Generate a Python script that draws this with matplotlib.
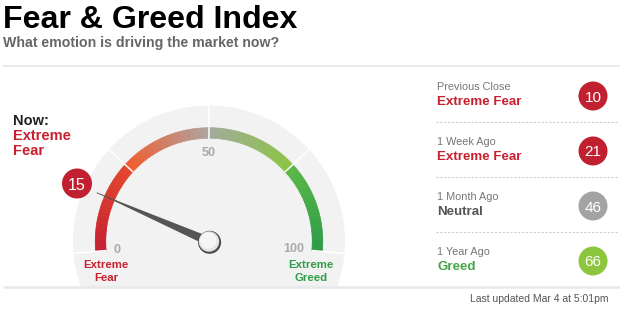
import numpy as np
import matplotlib
matplotlib.use("Agg")
import matplotlib.pyplot as plt
from matplotlib.patches import Wedge, Circle, Polygon, Rectangle
from matplotlib.colors import to_rgb

# ---- data ----
now_value = 15
now_label = "Extreme Fear"
gauge_ticks = [0, 50, 100]
separators = [0, 25, 50, 75, 100]
hist_labels = ["Previous Close", "1 Week Ago", "1 Month Ago", "1 Year Ago"]
hist_states = ["Extreme Fear", "Extreme Fear", "Neutral", "Greed"]
hist_values = [10, 21, 46, 66]
updated_text = "Last updated Mar 4 at 5:01pm"

# ---- style ----
FONT = "Liberation Sans"
BADGE = {"Extreme Fear": "#c0202f", "Neutral": "#a3a3a3", "Greed": "#8cc63e"}
STATE_TXT = {"Extreme Fear": "#c8202f", "Neutral": "#555555", "Greed": "#45a546"}
seg_colors = [("#c41d30", "#e4472c"), ("#f15a28", "#aea4a0"),
              ("#a2aa9c", "#8bc540"), ("#5cb847", "#2b9b46")]

W, H = 620, 310
fig = plt.figure(figsize=(6.2, 3.1), dpi=100)
ax = fig.add_axes([0, 0, 1, 1])
ax.set_xlim(0, W)
ax.set_ylim(0, H)
ax.axis("off")


def Y(y):
    return H - y


cx, cy = 209, Y(241.5)
R_BG, R_OUT, R_IN = 136, 114, 103


def ang(v):
    return 185 - 1.9 * v


# header
ax.text(3, Y(28), "Fear & Greed Index", fontsize=23.1, fontweight="bold",
        family=FONT, color="#000000", va="baseline", ha="left")
ax.text(3, Y(47), "What emotion is driving the market now?", fontsize=10.15,
        fontweight="bold", family=FONT, color="#666666", va="baseline", ha="left")
ax.plot([3, 620], [Y(66), Y(66)], color="#e6e6e6", lw=1.2, solid_capstyle="butt")

# gauge background
bg = Circle((cx, cy), R_BG, facecolor="#f2f2f2", edgecolor="none", zorder=1)
ax.add_patch(bg)
clip = Rectangle((0, Y(287)), W, H, transform=ax.transData)
bg.set_clip_path(clip)

# gradient arc
for (v0, v1), (c0, c1) in zip(zip(separators[:-1], separators[1:]), seg_colors):
    n = 40
    c0, c1 = np.array(to_rgb(c0)), np.array(to_rgb(c1))
    for i in range(n):
        a = v0 + (v1 - v0) * i / n
        b = v0 + (v1 - v0) * (i + 1) / n
        col = c0 + (c1 - c0) * (i + 0.5) / n
        ax.add_patch(Wedge((cx, cy), R_OUT - 0.2, ang(b), ang(a),
                           width=R_OUT - R_IN - 0.4, facecolor=col, edgecolor=col,
                           lw=0.45, zorder=2))

# separators
for v in separators:
    t = np.radians(ang(v))
    ax.plot([cx + R_IN * np.cos(t), cx + (R_BG + 1) * np.cos(t)],
            [cy + R_IN * np.sin(t), cy + (R_BG + 1) * np.sin(t)],
            color="white", lw=1.1, zorder=3, solid_capstyle="butt")

# tick labels
tick_r = {0: 92, 50: 88, 100: 85}
for v in gauge_ticks:
    t = np.radians(ang(v))
    ax.text(cx + tick_r[v] * np.cos(t), cy + tick_r[v] * np.sin(t), str(v),
            fontsize=9, fontweight="bold", family=FONT, color="#aaaaaa",
            ha="center", va="center", zorder=4)

# end labels
for x, col, words in [(106, "#c8202f", ["Extreme", "Fear"]),
                      (311, "#2e9e47", ["Extreme", "Greed"])]:
    for j, w in enumerate(words):
        ax.text(x, Y(268 + 13 * j), w, fontsize=8.2, fontweight="bold", family=FONT,
                color=col, ha="center", va="baseline", zorder=4)

# needle
t = np.radians(ang(now_value))
tip = (cx + 122 * np.cos(t), cy + 122 * np.sin(t))
px, py = -np.sin(t), np.cos(t)
hw = 4.5
ax.add_patch(Polygon([tip, (cx + hw * px, cy + hw * py), (cx - hw * px, cy - hw * py)],
                     closed=True, facecolor="#555555", edgecolor="none", zorder=5))
ax.plot([tip[0], cx + 100 * np.cos(t)], [tip[1], cy + 100 * np.sin(t)],
        color="#555555", lw=0.6, zorder=5)

# knob
ax.add_patch(Circle((cx + 0.6, cy - 0.8), 11.5, facecolor="#4a4a4a", edgecolor="none", zorder=6))
ax.add_patch(Circle((cx, cy), 10.2, facecolor="#e4e4e4", edgecolor="none", zorder=7))
ax.add_patch(Circle((cx - 0.8, cy + 1.0), 8.2, facecolor="#f6f6f6", edgecolor="none", zorder=8))

# now badge
bx, by = 77, Y(183.5)
ax.add_patch(Circle((bx, by), 15, facecolor=BADGE["Extreme Fear"], edgecolor="none", zorder=9))
ax.text(bx, by, str(now_value), fontsize=11.5, family=FONT, color="white",
        ha="center", va="center_baseline", zorder=10)

# now text
ax.text(13, Y(125), "Now:", fontsize=10.5, fontweight="bold", family=FONT,
        color="#222222", va="baseline")
for i, w in enumerate(now_label.split()):
    ax.text(13, Y(140 + 15 * i), w, fontsize=10.5, fontweight="bold", family=FONT,
            color="#c8202f", va="baseline")

# history panel
for i, (lab, st, val) in enumerate(zip(hist_labels, hist_states, hist_values)):
    y0 = 90 + 55 * i
    ax.text(437, Y(y0), lab, fontsize=7.8, family=FONT, color="#777777", va="baseline")
    ax.text(437, Y(y0 + 15), st, fontsize=9.6, fontweight="bold", family=FONT,
            color=STATE_TXT[st], va="baseline")
    ccy = Y(y0 + 6)
    ax.add_patch(Circle((593, ccy), 14.5, facecolor=BADGE[st], edgecolor="none", zorder=3))
    ax.text(593, ccy, str(val), fontsize=11, family=FONT, color="white",
            ha="center", va="center_baseline", zorder=4)
    if i < len(hist_labels) - 1:
        ax.plot([436, 618], [Y(y0 + 32), Y(y0 + 32)], color="#cccccc", lw=0.8,
                ls=(0, (2, 1.5)))

# bottom line and footer
ax.plot([3, 620], [Y(287), Y(287)], color="#e8e8e8", lw=1.8, solid_capstyle="butt", zorder=10)
ax.text(608, Y(302), updated_text, fontsize=7.5, family=FONT, color="#555555",
        ha="right", va="baseline")

fig.savefig("out.png", dpi=100, facecolor="white")
